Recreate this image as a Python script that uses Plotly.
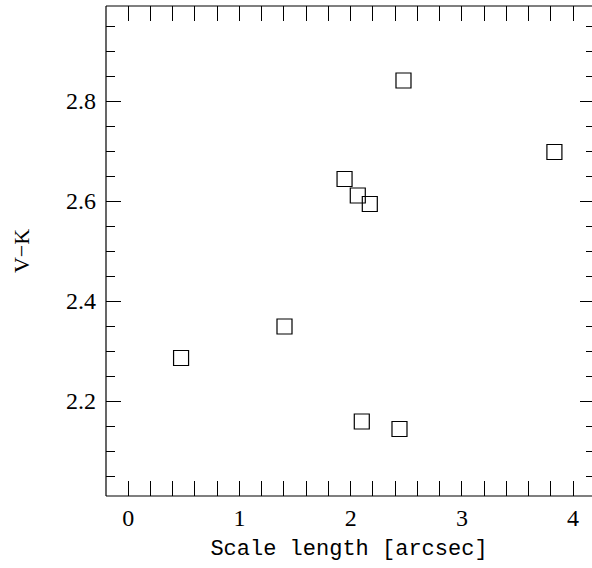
import plotly.graph_objects as go

scale_length = [0.475, 1.405, 1.945, 2.064, 2.172, 2.475, 3.832, 2.100, 2.439]
v_minus_k = [2.286, 2.349, 2.644, 2.611, 2.594, 2.841, 2.698, 2.159, 2.144]
y_tick_values = [2.2, 2.4, 2.6, 2.8]
y_tick_labels = ["2.2", "2.4", "2.6", "2.8"]

fig = go.Figure()
fig.add_trace(go.Scatter(
    x=scale_length, y=v_minus_k, mode="markers",
    marker=dict(symbol="square-open", size=15, color="black", line=dict(width=1.2, color="black")),
    showlegend=False, hoverinfo="skip"))
# invisible trace so the right-hand tick axis is drawn
fig.add_trace(go.Scatter(x=[scale_length[0]], y=[v_minus_k[0]], yaxis="y2", mode="markers",
                         marker=dict(opacity=0), showlegend=False, hoverinfo="skip"))

tickfont = dict(family="Liberation Serif", size=24, color="black")
xtitlefont = dict(family="Liberation Mono", size=22, color="black")
ytitlefont = dict(family="Liberation Serif", size=22, color="black")

fig.update_layout(
    width=592, height=568,
    margin=dict(l=106, r=0, t=6, b=72),
    paper_bgcolor="white", plot_bgcolor="white",
    xaxis=dict(range=[-0.2, 4.17], showgrid=False, zeroline=False,
               showline=False, mirror="allticks",
               ticks="inside", ticklen=15, tickwidth=1, tickcolor="black",
               dtick=1, tick0=0, tickfont=tickfont, ticklabelstandoff=5,
               minor=dict(dtick=0.2, tick0=0, ticks="inside", ticklen=9, tickcolor="black", tickwidth=1, showgrid=False),
               title=dict(text="Scale length [arcsec]", font=xtitlefont, standoff=9)),
    yaxis=dict(range=[2.01, 2.99], showgrid=False, zeroline=False,
               showline=False, mirror=False,
               ticks="inside", ticklen=15, tickwidth=1, tickcolor="black",
               tickvals=y_tick_values, ticktext=y_tick_labels,
               tickfont=tickfont, ticklabelstandoff=9,
               minor=dict(dtick=0.05, tick0=2.0, ticks="inside", ticklen=9, tickcolor="black", tickwidth=1, showgrid=False),
               title=dict(text="V\u2212K", font=ytitlefont, standoff=30)),
    yaxis2=dict(range=[2.01, 2.99], overlaying="y", side="right", showgrid=False, zeroline=False,
                showline=False, showticklabels=False,
                ticks="inside", ticklen=12, tickwidth=1, tickcolor="black",
                tickvals=y_tick_values,
                minor=dict(dtick=0.05, tick0=2.0, ticks="inside", ticklen=6, tickcolor="black", tickwidth=1, showgrid=False)),
)

for x0, y0, x1, y1 in [(0, 0, 0, 1), (0, 0, 1, 0), (0, 1, 1, 1)]:
    fig.add_shape(type="line", xref="paper", yref="paper", x0=x0, y0=y0, x1=x1, y1=y1,
                  line=dict(color="black", width=1.2), layer="above")

fig.write_html("out.html")
